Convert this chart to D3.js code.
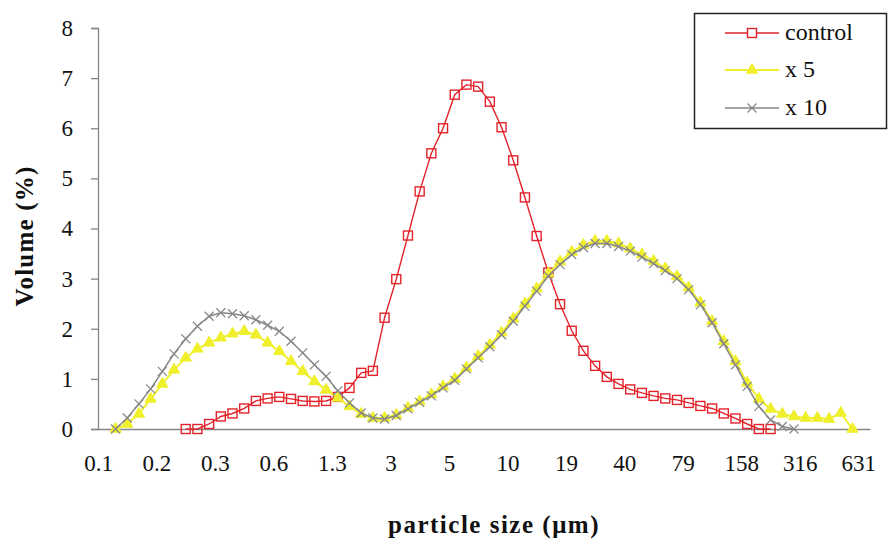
<!DOCTYPE html>
<html>
<head>
<meta charset="utf-8">
<script src="https://cdn.jsdelivr.net/npm/d3@7"></script>
<style>
  body { margin: 0; background: #fff; }
  text { font-family: "Liberation Serif", "Times New Roman", serif; }
</style>
</head>
<body>
<div id="chart"></div>
<script>
// tick labels every 5th size class
var tickLabels = ["0.1", "0.2", "0.3", "0.6", "1.3", "3", "5", "10", "19", "40", "79", "158", "316", "631"];

// series values, first value sits at size class *Start
var controlStart = 7;
var controlValues = [0, 0, 0.1, 0.25, 0.31, 0.41, 0.56, 0.61, 0.64, 0.6, 0.56, 0.55, 0.56, 0.64, 0.82, 1.12, 1.16,
  2.22, 2.99, 3.86, 4.74, 5.5, 6.0, 6.67, 6.87, 6.83, 6.53, 6.02, 5.36, 4.62, 3.85, 3.12, 2.49, 1.96, 1.56,
  1.26, 1.04, 0.9, 0.79, 0.72, 0.66, 0.61, 0.58, 0.52, 0.46, 0.41, 0.31, 0.21, 0.1, 0, 0];

var x5Start = 1;
var x5Values = [0, 0.1, 0.3, 0.6, 0.9, 1.18, 1.42, 1.6, 1.72, 1.82, 1.9, 1.95, 1.88, 1.72, 1.55, 1.35, 1.15, 0.95,
  0.78, 0.62, 0.45, 0.3, 0.22, 0.22, 0.28, 0.42, 0.55, 0.69, 0.85, 1.0, 1.22, 1.45, 1.68, 1.92, 2.2, 2.5, 2.8,
  3.1, 3.34, 3.53, 3.67, 3.75, 3.75, 3.7, 3.6, 3.48, 3.35, 3.2, 3.04, 2.82, 2.52, 2.15, 1.75, 1.35, 0.92, 0.6,
  0.4, 0.3, 0.25, 0.22, 0.22, 0.2, 0.32, 0];

var x10Start = 1;
var x10Values = [0, 0.22, 0.5, 0.8, 1.15, 1.5, 1.8, 2.05, 2.25, 2.32, 2.3, 2.26, 2.18, 2.07, 1.95, 1.75, 1.52, 1.28,
  1.05, 0.76, 0.52, 0.32, 0.22, 0.2, 0.27, 0.4, 0.53, 0.66, 0.82, 0.97, 1.2, 1.42, 1.64, 1.88, 2.15, 2.45, 2.75,
  3.05, 3.28, 3.48, 3.62, 3.7, 3.7, 3.64, 3.55, 3.43, 3.3, 3.16, 3.0, 2.78, 2.48, 2.12, 1.7, 1.28, 0.85, 0.45,
  0.18, 0.05, 0];

var svg = d3.select("#chart").append("svg")
  .attr("width", 888)
  .attr("height", 543);

var xScale = d3.scaleLinear().domain([0, 66]).range([98, 870]);
var yScale = d3.scaleLinear().domain([0, 8]).range([429, 28]);

// axes
var yAxis = d3.axisLeft(yScale).ticks(8).tickSize(7).tickPadding(18);
svg.append("g")
  .attr("transform", "translate(98,0)")
  .call(yAxis)
  .call(g => g.select(".domain").attr("stroke", "#868686").attr("stroke-width", 1.3))
  .call(g => g.selectAll(".tick line").attr("stroke", "#868686").attr("stroke-width", 1.3))
  .call(g => g.selectAll("text").attr("font-size", 23).attr("fill", "#111")
    .attr("font-family", "Liberation Serif"));

var xAxis = d3.axisBottom(xScale)
  .tickValues(tickLabels.map((d, i) => i * 5))
  .tickFormat((d, i) => tickLabels[i])
  .tickSize(0)
  .tickPadding(26);
svg.append("g")
  .attr("transform", "translate(0,429)")
  .call(xAxis)
  .call(g => g.select(".domain").attr("stroke", "#868686").attr("stroke-width", 1.3))
  .call(g => g.selectAll("text").attr("font-size", 23).attr("fill", "#111")
    .attr("font-family", "Liberation Serif"));

// axis titles
svg.append("text")
  .attr("transform", "translate(33,236) rotate(-90)")
  .attr("text-anchor", "middle")
  .attr("font-size", 25)
  .attr("font-weight", "bold")
  .attr("letter-spacing", 1.2)
  .attr("fill", "#111")
  .text("Volume (%)");

svg.append("text")
  .attr("x", 494)
  .attr("y", 533)
  .attr("text-anchor", "middle")
  .attr("font-size", 25)
  .attr("font-weight", "bold")
  .attr("letter-spacing", 1.5)
  .attr("fill", "#111")
  .text("particle size (μm)");

function toPoints(start, values) {
  return values.map((v, i) => ({ k: start + i + 0.5, v: v }));
}

var line = d3.line().x(d => xScale(d.k)).y(d => yScale(d.v));

var red = "#e2232b", yellow = "#efef2c", grey = "#878787";

// control
var controlData = toPoints(controlStart, controlValues);
svg.append("path").datum(controlData)
  .attr("d", line).attr("fill", "none").attr("stroke", red).attr("stroke-width", 1.4);
svg.append("g").selectAll("rect").data(controlData).enter().append("rect")
  .attr("x", d => xScale(d.k) - 4.5)
  .attr("y", d => yScale(d.v) - 4.5)
  .attr("width", 9).attr("height", 9)
  .attr("fill", "none").attr("stroke", red).attr("stroke-width", 1.4);

// x 5
var tri = d3.symbol().type(d3.symbolTriangle).size(55);
var x5Data = toPoints(x5Start, x5Values);
svg.append("path").datum(x5Data)
  .attr("d", line).attr("fill", "none").attr("stroke", yellow).attr("stroke-width", 2);
svg.append("g").selectAll("path").data(x5Data).enter().append("path")
  .attr("d", tri)
  .attr("transform", d => `translate(${xScale(d.k)},${yScale(d.v)})`)
  .attr("fill", yellow).attr("stroke", yellow).attr("stroke-width", 1);

// x 10
var x10Data = toPoints(x10Start, x10Values);
svg.append("path").datum(x10Data)
  .attr("d", line).attr("fill", "none").attr("stroke", grey).attr("stroke-width", 1.5);
svg.append("g").selectAll("path").data(x10Data).enter().append("path")
  .attr("d", d => {
    var cx = xScale(d.k), cy = yScale(d.v), s = 4.5;
    return `M${cx - s},${cy - s}L${cx + s},${cy + s}M${cx - s},${cy + s}L${cx + s},${cy - s}`;
  })
  .attr("stroke", grey).attr("stroke-width", 1.2);

// legend
var legend = svg.append("g");
legend.append("rect")
  .attr("x", 694.5).attr("y", 13.5).attr("width", 192).attr("height", 115)
  .attr("fill", "#fff").attr("stroke", "#222").attr("stroke-width", 1.5);

var legendItems = [
  { name: "control", color: red, y: 33 },
  { name: "x 5", color: yellow, y: 70 },
  { name: "x 10", color: grey, y: 108 }
];
legendItems.forEach(function(item, i) {
  legend.append("line")
    .attr("x1", 725).attr("x2", 779).attr("y1", item.y).attr("y2", item.y)
    .attr("stroke", item.color).attr("stroke-width", i === 1 ? 2 : 1.4);
  var cx = 752, cy = item.y;
  if (i === 0) {
    legend.append("rect").attr("x", cx - 4.5).attr("y", cy - 4.5).attr("width", 9).attr("height", 9)
      .attr("fill", "#fff").attr("stroke", red).attr("stroke-width", 1.4);
  } else if (i === 1) {
    legend.append("path").attr("d", tri).attr("transform", `translate(${cx},${cy})`)
      .attr("fill", yellow).attr("stroke", yellow);
  } else {
    legend.append("path")
      .attr("d", `M${cx - 4.5},${cy - 4.5}L${cx + 4.5},${cy + 4.5}M${cx - 4.5},${cy + 4.5}L${cx + 4.5},${cy - 4.5}`)
      .attr("stroke", grey).attr("stroke-width", 1.2);
  }
  legend.append("text")
    .attr("x", 785).attr("y", item.y + 7)
    .attr("font-size", 24).attr("fill", "#111")
    .text(item.name);
});
</script>
</body>
</html>
